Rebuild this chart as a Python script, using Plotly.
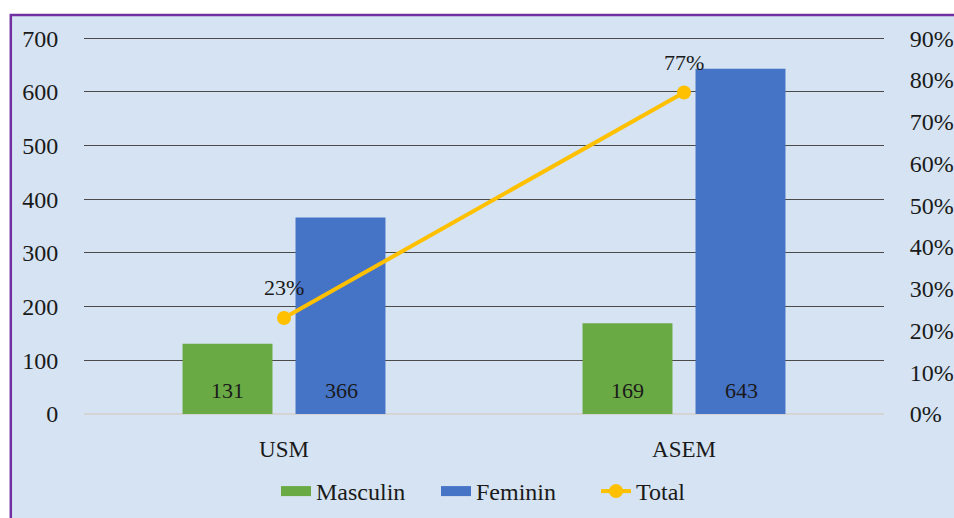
import plotly.graph_objects as go

categories = ["USM", "ASEM"]
masculin = [131, 169]
feminin = [366, 643]
total_pct = [0.23, 0.77]
total_labels = ["23%", "77%"]
left_ticks = [0, 100, 200, 300, 400, 500, 600, 700]
right_ticks = [0, 0.1, 0.2, 0.3, 0.4, 0.5, 0.6, 0.7, 0.8, 0.9]

FONT = "Liberation Serif, Times New Roman, serif"
BG = "#d5e3f2"
TXT = "#1a1a1a"
GREEN = "#6aaa45"
BLUE = "#4573c6"
GOLD = "#ffc000"
YTOP = 704

fig = go.Figure()
fig.add_trace(go.Bar(
    x=categories, y=masculin, name="Masculin", showlegend=False,
    marker=dict(color=GREEN, line=dict(width=0)),
))
fig.add_trace(go.Bar(
    x=categories, y=feminin, name="Feminin", showlegend=False,
    marker=dict(color=BLUE, line=dict(width=0)),
))
fig.add_trace(go.Scatter(
    x=categories, y=total_pct, name="Total", yaxis="y2",
    mode="lines+markers", showlegend=False,
    line=dict(color=GOLD, width=4),
    marker=dict(color=GOLD, size=14),
))
# legend entries (wide Excel-like swatches)
fig.add_trace(go.Scatter(x=[None], y=[None], mode="lines", name="Masculin",
                         line=dict(color=GREEN, width=13)))
fig.add_trace(go.Scatter(x=[None], y=[None], mode="lines", name="Feminin",
                         line=dict(color=BLUE, width=13)))
fig.add_trace(go.Scatter(x=[None], y=[None], mode="lines+markers", name="Total",
                         line=dict(color=GOLD, width=4), marker=dict(color=GOLD, size=14)))

for c, v, t in zip(categories, total_pct, total_labels):
    fig.add_annotation(x=c, y=v, yref="y2", text=t, showarrow=False,
                       yshift=30, font=dict(family=FONT, size=22, color=TXT))

for series, dx in ((masculin, -57), (feminin, 57)):
    for c, v in zip(categories, series):
        fig.add_annotation(x=c, y=0, yref="y", text=str(v), showarrow=False,
                           xshift=dx, yshift=24, yanchor="middle",
                           font=dict(family=FONT, size=22, color=TXT))

fig.add_shape(type="rect", xref="paper", yref="paper",
              x0=-0.0915, x1=1.2, y0=-0.4, y1=1.0555,
              fillcolor=BG, line=dict(color="#7030a0", width=2.5), layer="below")

fig.update_layout(
    width=954, height=518,
    margin=dict(l=84, r=70, t=36, b=104, autoexpand=False),
    paper_bgcolor="white",
    plot_bgcolor="rgba(0,0,0,0)",
    barmode="group",
    bargap=0.435,
    bargroupgap=0.204,
    font=dict(family=FONT, size=22, color=TXT),
    showlegend=True,
    legend=dict(orientation="h", x=0.54, xanchor="center", y=-0.205, yanchor="middle",
                font=dict(family=FONT, size=24, color=TXT),
                bgcolor="rgba(0,0,0,0)", itemwidth=30,
                entrywidth=115, entrywidthmode="pixels"),
    xaxis=dict(showgrid=False, ticks="outside", ticklen=0, ticklabelstandoff=14,
               tickfont=dict(family=FONT, size=23, color=TXT), showline=False,
               zeroline=False, automargin=False),
    yaxis=dict(range=[0, YTOP], tickvals=left_ticks, showgrid=True,
               gridcolor="#4a4a4a", gridwidth=1, zeroline=True,
               zerolinecolor="#d4d4d4", zerolinewidth=2,
               ticks="outside", ticklen=0, ticklabelstandoff=20,
               tickfont=dict(family=FONT, size=24, color=TXT), showline=False,
               automargin=False),
    yaxis2=dict(range=[0, 0.9 * YTOP / 700], tickvals=right_ticks, tickformat=".0%",
                overlaying="y", side="right", showgrid=False, zeroline=False,
                ticks="outside", ticklen=0, ticklabelstandoff=20,
                tickfont=dict(family=FONT, size=24, color=TXT), showline=False,
                automargin=False),
)

fig.write_html("out.html", config={"displayModeBar": False},
               post_script="document.body.style.margin='0';document.body.style.overflow='hidden';")
